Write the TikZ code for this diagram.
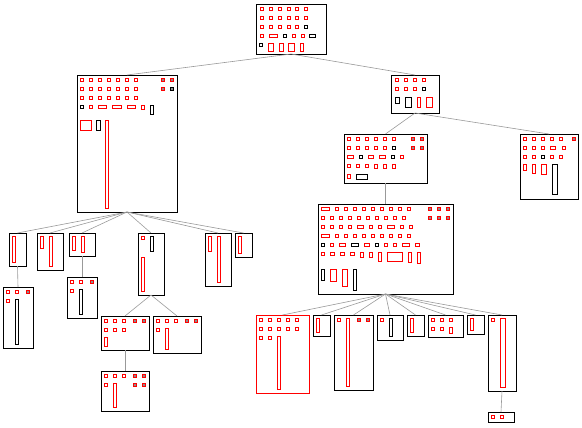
\documentclass[tikz,border=0pt]{standalone}
\usepackage{tikz}

\tikzset{
  tbox/.style={draw, line width=0.9pt, inner sep=0pt, outer sep=0pt, anchor=north west},
  link/.style={draw=black!40, line width=0.6pt},
  rpart/.style={draw=red, line width=0.8pt},
  kpart/.style={draw=black, line width=0.8pt},
}
\newcommand{\redsq}[2]{\draw[rpart] (#1+0.5,#2+0.5) rectangle ++(3,3);}
\newcommand{\blksq}[2]{\draw[kpart] (#1+0.5,#2+0.5) rectangle ++(3,3);}
\newcommand{\grysq}[2]{\draw[rpart, fill=black!45] (#1+0.5,#2+0.5) rectangle ++(3,3);}
\newcommand{\grybsq}[2]{\draw[kpart, fill=black!45] (#1+0.5,#2+0.5) rectangle ++(3,3);}
\newcommand{\redrect}[4]{\draw[rpart] (#1+0.5,#2+0.5) rectangle (#3-0.5,#4-0.5);}
\newcommand{\blkrect}[4]{\draw[kpart] (#1+0.5,#2+0.5) rectangle (#3-0.5,#4-0.5);}

\begin{document}
\begin{tikzpicture}[x=1pt, y=-1pt]
    \useasboundingbox (0,0) rectangle (582,428);

    % Root
    \node[tbox, minimum width=70pt, minimum height=50pt] (R) at (256,4) {};
    \redsq{260}{7} \redsq{269}{7} \redsq{278}{7} \redsq{287}{7} \redsq{295}{7} \redsq{304}{7}
    \redsq{260}{16} \redsq{269}{16} \redsq{278}{16} \redsq{287}{16} \redsq{295}{16} \redsq{304}{16}
    \redsq{260}{25} \redsq{269}{25} \redsq{278}{25} \redsq{287}{25} \redsq{295}{25} \blksq{304}{25}
    \redsq{260}{34} \redrect{269}{34}{278}{38} \blksq{283}{34} \redsq{292}{34} \redsq{301}{34} \blkrect{309}{34}{316}{38}
    \blksq{259}{43} \redrect{268}{43}{274}{52} \redrect{279}{43}{284}{52} \redrect{288}{43}{295}{52} \redrect{300}{43}{304}{52}

    % Left big box
    \node[tbox, minimum width=100pt, minimum height=137pt] (A) at (77,75) {};
    \redsq{80}{78} \redsq{89}{78} \redsq{98}{78} \redsq{107}{78} \redsq{116}{78} \redsq{125}{78} \redsq{134}{78} \grysq{161}{78} \grysq{170}{78}
    \redsq{80}{87} \redsq{89}{87} \redsq{98}{87} \redsq{107}{87} \redsq{116}{87} \redsq{125}{87} \redsq{134}{87} \grysq{161}{87} \grybsq{170}{87}
    \redsq{80}{96} \redsq{89}{96} \redsq{98}{96} \redsq{107}{96} \redsq{116}{96} \redsq{125}{96} \redsq{134}{96}
    \blksq{80}{105} \redsq{89}{105} \redrect{98}{105}{107}{109} \redrect{112}{105}{122}{109} \redrect{127}{105}{136}{109}
    \redrect{141}{105}{145}{110} \blkrect{150}{105}{154}{115}
    \redrect{80}{120}{92}{131} \blkrect{96}{120}{101}{131} \redrect{105}{120}{109}{209}

    % Right box under root
    \node[tbox, minimum width=48pt, minimum height=38pt] (B) at (391,75) {};
    \redsq{395}{78} \redsq{404}{78} \redsq{413}{78} \redsq{422}{78}
    \redsq{395}{87} \redsq{404}{87} \redsq{413}{87} \blksq{422}{87}
    \blkrect{395}{97}{400}{104} \blkrect{405}{97}{412}{108} \redrect{417}{97}{421}{108} \redrect{426}{97}{433}{108}

    % Second level, right side
    \node[tbox, minimum width=83pt, minimum height=49pt] (C) at (344,134) {};
    \redsq{347}{137} \redsq{356}{137} \redsq{365}{137} \redsq{374}{137} \redsq{383}{137} \redsq{392}{137} \grysq{411}{137} \grysq{420}{137}
    \redsq{347}{146} \redsq{356}{146} \redsq{365}{146} \redsq{374}{146} \redsq{383}{146} \blksq{392}{146} \grysq{411}{146} \grysq{420}{146}
    \redrect{347}{155}{354}{159} \blksq{359}{155} \redrect{368}{155}{374}{159} \redrect{379}{155}{386}{159} \blksq{391}{155} \redsq{400}{155}
    \redsq{347}{164} \redsq{356}{164} \redsq{365}{164} \redrect{374}{164}{378}{169} \redrect{383}{164}{387}{169} \redrect{392}{164}{396}{169}
    \redrect{347}{174}{351}{179} \blkrect{356}{174}{368}{180}

    \node[tbox, minimum width=58pt, minimum height=65pt] (D) at (520,134) {};
    \redsq{523}{137} \redsq{532}{137} \redsq{541}{137} \redsq{550}{137} \redsq{559}{137} \grysq{572}{137}
    \redsq{523}{146} \redsq{532}{146} \redsq{541}{146} \redrect{550}{146}{556}{150} \redsq{562}{146}
    \redsq{523}{155} \redsq{532}{155} \blksq{541}{155} \redsq{550}{155} \redsq{559}{155}
    \redrect{523}{164}{527}{171} \redrect{532}{164}{536}{174} \redrect{541}{164}{547}{175} \blkrect{552}{164}{558}{195}

    % Wide box
    \node[tbox, minimum width=135pt, minimum height=90pt] (E) at (318,204) {};
    \redrect{321}{207}{330}{211} \redsq{335}{207} \redsq{344}{207} \redsq{353}{207} \redsq{362}{207} \redsq{371}{207}
    \redsq{380}{207} \redsq{389}{207} \redsq{398}{207} \redsq{407}{207} \grysq{428}{207} \grysq{437}{207} \grysq{446}{207}
    \redsq{321}{216} \redsq{330}{216} \redsq{339}{216} \redsq{348}{216} \redsq{357}{216} \redsq{366}{216} \redsq{375}{216}
    \redsq{384}{216} \redsq{393}{216} \redsq{402}{216} \grysq{428}{216} \grysq{437}{216} \grysq{446}{216}
    \redsq{321}{225} \redsq{330}{225} \redsq{339}{225} \redsq{348}{225} \redrect{357}{225}{364}{229} \redsq{369}{225}
    \redsq{378}{225} \redrect{387}{225}{395}{229} \redsq{400}{225} \redsq{409}{225}
    \redrect{321}{234}{330}{238} \redsq{335}{234} \redsq{344}{234} \redsq{353}{234} \redsq{362}{234} \redsq{371}{234}
    \redsq{380}{234} \redsq{389}{234} \redsq{398}{234} \redsq{407}{234}
    \blksq{321}{243} \redsq{330}{243} \redrect{339}{243}{346}{247} \blkrect{351}{243}{359}{247} \redrect{364}{243}{370}{247}
    \blksq{375}{243} \redsq{384}{243} \redsq{393}{243} \redrect{402}{243}{410}{247} \redrect{415}{243}{420}{247}
    \redsq{321}{252} \redrect{330}{252}{335}{256} \redrect{340}{252}{345}{256} \redrect{350}{252}{355}{256}
    \redrect{360}{252}{364}{258} \redrect{369}{252}{373}{258} \redrect{378}{252}{382}{262} \redrect{387}{252}{403}{262}
    \redrect{408}{252}{412}{263} \redrect{417}{252}{421}{264}
    \blkrect{321}{269}{325}{281} \redrect{330}{269}{337}{282} \redrect{342}{269}{348}{287} \blkrect{353}{269}{357}{291}

    % Children of the left big box
    \node[tbox, minimum width=17pt, minimum height=33pt] (A1) at (9,233) {};
    \redrect{12}{236}{16}{263}
    \node[tbox, minimum width=26pt, minimum height=37pt] (A2) at (37,233) {};
    \redrect{40}{236}{44}{249} \redrect{49}{236}{53}{267}
    \node[tbox, minimum width=26pt, minimum height=23pt] (A3) at (69,233) {};
    \redrect{72}{236}{76}{251} \redrect{81}{236}{85}{253}
    \node[tbox, minimum width=26pt, minimum height=62pt] (A4) at (138,233) {};
    \redsq{141}{236} \blkrect{150}{236}{154}{252} \redrect{141}{257}{145}{292}
    \node[tbox, minimum width=26pt, minimum height=53pt] (A5) at (205,233) {};
    \redrect{208}{236}{212}{252} \redrect{217}{236}{221}{283}
    \node[tbox, minimum width=17pt, minimum height=24pt] (A6) at (235,233) {};
    \redrect{238}{236}{242}{254}

    % Deeper left boxes
    \node[tbox, minimum width=30pt, minimum height=61pt] (A1a) at (3,287) {};
    \redsq{6}{290} \redsq{15}{290} \grysq{26}{290} \redsq{6}{299} \blkrect{15}{299}{19}{345}
    \node[tbox, minimum width=30pt, minimum height=41pt] (A3a) at (67,277) {};
    \redsq{70}{280} \redsq{79}{280} \grysq{90}{280} \redsq{70}{289} \blkrect{79}{289}{83}{315}
    \node[tbox, minimum width=48pt, minimum height=34pt] (A4a) at (101,316) {};
    \redsq{104}{319} \redsq{113}{319} \redsq{122}{319} \grysq{133}{319} \grysq{142}{319}
    \redsq{104}{328} \redsq{113}{328} \redsq{122}{328} \redrect{104}{337}{108}{347}
    \node[tbox, minimum width=48pt, minimum height=37pt] (A4b) at (153,316) {};
    \redsq{156}{319} \redsq{165}{319} \redsq{174}{319} \grysq{185}{319} \grysq{194}{319}
    \redsq{156}{328} \redrect{165}{328}{169}{350}
    \node[tbox, minimum width=48pt, minimum height=40pt] (A4a1) at (101,371) {};
    \redsq{104}{374} \redsq{113}{374} \redsq{122}{374} \grysq{133}{374} \grysq{142}{374}
    \redsq{104}{383} \redrect{113}{383}{117}{408} \grysq{133}{383} \grysq{142}{383}

    % Children of the wide box
    \node[tbox, draw=red, minimum width=53pt, minimum height=78pt] (E1) at (256,315) {};
    \redsq{259}{318} \redsq{268}{318} \redsq{277}{318} \redsq{286}{318} \redsq{295}{318}
    \redsq{259}{327} \redsq{268}{327} \redsq{277}{327} \redsq{286}{327} \redsq{295}{327}
    \redsq{259}{336} \redsq{268}{336} \redrect{277}{336}{281}{390}
    \node[tbox, minimum width=17pt, minimum height=21pt] (E2) at (313,315) {};
    \redrect{316}{318}{320}{333}
    \node[tbox, minimum width=39pt, minimum height=75pt] (E3) at (334,315) {};
    \redsq{337}{318} \redrect{346}{318}{350}{387} \grysq{357}{318} \grysq{366}{318}
    \node[tbox, minimum width=26pt, minimum height=25pt] (E4) at (377,315) {};
    \redsq{380}{318} \blkrect{389}{318}{393}{337}
    \node[tbox, minimum width=17pt, minimum height=21pt] (E5) at (407,315) {};
    \redrect{410}{318}{414}{333}
    \node[tbox, minimum width=35pt, minimum height=22pt] (E6) at (428,315) {};
    \redsq{431}{318} \redsq{440}{318} \redsq{449}{318} \redsq{431}{327} \redsq{440}{327} \redrect{449}{327}{453}{334}
    \node[tbox, minimum width=17pt, minimum height=19pt] (E7) at (467,315) {};
    \redrect{470}{318}{474}{331}
    \node[tbox, minimum width=28pt, minimum height=76pt] (E8) at (488,315) {};
    \redsq{491}{318} \redrect{500}{318}{506}{388}
    \node[tbox, minimum width=26pt, minimum height=10pt] (E8a) at (488,412) {};
    \redsq{491}{415} \redsq{500}{415}

    % Links
    \draw[link] (R.south) -- (A.north);
    \draw[link] (R.south) -- (B.north);
    \draw[link] (A.south) -- (A1.north);
    \draw[link] (A.south) -- (A2.north);
    \draw[link] (A.south) -- (A3.north);
    \draw[link] (A.south) -- (A4.north);
    \draw[link] (A.south) -- (A5.north);
    \draw[link] (A.south) -- (A6.north);
    \draw[link] (A1.south) -- (A1a.north);
    \draw[link] (A3.south) -- (A3a.north);
    \draw[link] (A4.south) -- (A4a.north);
    \draw[link] (A4.south) -- (A4b.north);
    \draw[link] (A4a.south) -- (A4a1.north);
    \draw[link] (B.south) -- (C.north);
    \draw[link] (B.south) -- (D.north);
    \draw[link] (C.south) -- (E.north);
    \draw[link] (E.south) -- (E1.north);
    \draw[link] (E.south) -- (E2.north);
    \draw[link] (E.south) -- (E3.north);
    \draw[link] (E.south) -- (E4.north);
    \draw[link] (E.south) -- (E5.north);
    \draw[link] (E.south) -- (E6.north);
    \draw[link] (E.south) -- (E7.north);
    \draw[link] (E.south) -- (E8.north);
    \draw[link] (E8.south) -- (E8a.north);
\end{tikzpicture}
\end{document}
